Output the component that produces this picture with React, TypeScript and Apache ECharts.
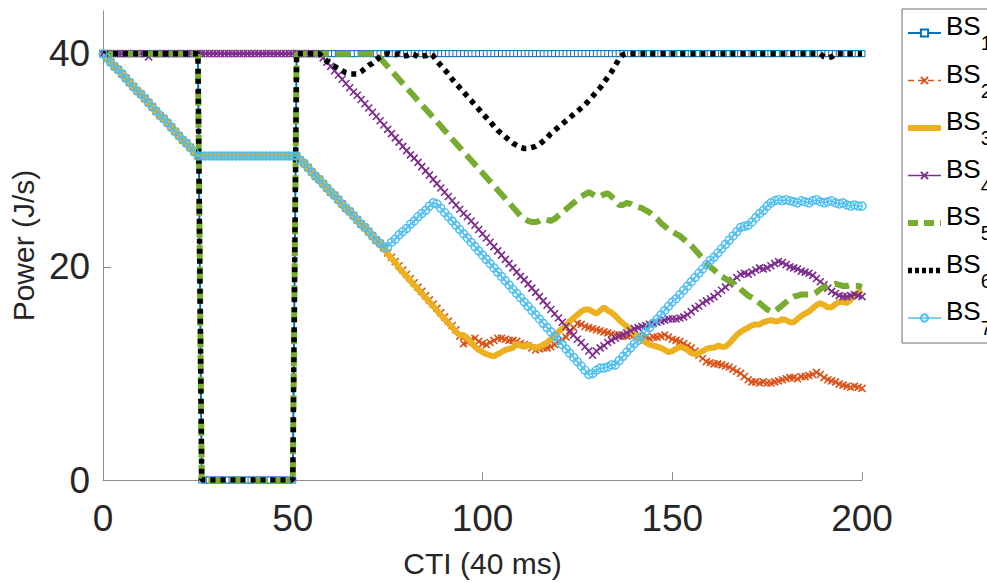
import React, { useEffect, useRef } from 'react';
import * as echarts from 'echarts';

const seriesNames = ['BS1', 'BS2', 'BS3', 'BS4', 'BS5', 'BS6', 'BS7'];
const seriesColors = ['#0072BD', '#D95319', '#EDB120', '#7E2F8E', '#77AC30', '#000000', '#4DBEEE'];
const xTicks = [0, 50, 100, 150, 200];
const yTicks = [0, 20, 40];
const xAxisTitle = 'CTI (40 ms)';
const yAxisTitle = 'Power (J/s)';

// values indexed by CTI step 0..200
const bs1 = [
  40, 40, 40, 40, 40, 40, 40, 40, 40, 40,
  40, 40, 40, 40, 40, 40, 40, 40, 40, 40,
  40, 40, 40, 40, 40, 40, 0, 0, 0, 0,
  0, 0, 0, 0, 0, 0, 0, 0, 0, 0,
  0, 0, 0, 0, 0, 0, 0, 0, 0, 0,
  0, 40, 40, 40, 40, 40, 40, 40, 40, 40,
  40, 40, 40, 40, 40, 40, 40, 40, 40, 40,
  40, 40, 40, 40, 40, 40, 40, 40, 40, 40,
  40, 40, 40, 40, 40, 40, 40, 40, 40, 40,
  40, 40, 40, 40, 40, 40, 40, 40, 40, 40,
  40, 40, 40, 40, 40, 40, 40, 40, 40, 40,
  40, 40, 40, 40, 40, 40, 40, 40, 40, 40,
  40, 40, 40, 40, 40, 40, 40, 40, 40, 40,
  40, 40, 40, 40, 40, 40, 40, 40, 40, 40,
  40, 40, 40, 40, 40, 40, 40, 40, 40, 40,
  40, 40, 40, 40, 40, 40, 40, 40, 40, 40,
  40, 40, 40, 40, 40, 40, 40, 40, 40, 40,
  40, 40, 40, 40, 40, 40, 40, 40, 40, 40,
  40, 40, 40, 40, 40, 40, 40, 40, 40, 40,
  40, 40, 40, 40, 40, 40, 40, 40, 40, 40,
  40,
];

const bs2 = [
  40.0, 39.6, 39.2, 38.8, 38.5, 38.1, 37.7, 37.3, 36.9, 36.5,
  36.2, 35.8, 35.4, 35.0, 34.6, 34.2, 33.9, 33.5, 33.1, 32.7,
  32.3, 31.9, 31.6, 31.2, 30.8, 30.4, 30.4, 30.4, 30.4, 30.4,
  30.4, 30.4, 30.4, 30.4, 30.4, 30.4, 30.4, 30.4, 30.4, 30.4,
  30.4, 30.4, 30.4, 30.4, 30.4, 30.4, 30.4, 30.4, 30.4, 30.4,
  30.4, 30.4, 30.0, 29.7, 29.3, 28.9, 28.5, 28.2, 27.8, 27.4,
  27.0, 26.7, 26.3, 25.9, 25.5, 25.2, 24.8, 24.4, 24.0, 23.7,
  23.3, 22.9, 22.5, 22.2, 21.8, 21.3, 20.9, 20.5, 20.1, 19.7,
  19.3, 18.9, 18.5, 18.1, 17.7, 17.3, 16.9, 16.5, 16.1, 15.7,
  15.3, 14.9, 14.5, 14.1, 13.5, 12.8, 12.9, 13.2, 13.3, 13.0,
  12.8, 12.7, 12.9, 13.1, 13.3, 13.3, 13.2, 13.1, 13.1, 13.0,
  12.8, 12.7, 12.6, 12.4, 12.2, 12.3, 12.4, 12.4, 12.5, 12.7,
  13.0, 13.2, 13.4, 13.8, 14.3, 14.7, 14.6, 14.4, 14.3, 14.2,
  14.1, 14.0, 13.9, 13.8, 13.7, 13.6, 13.6, 13.5, 13.5, 13.6,
  13.6, 13.5, 13.4, 13.4, 13.3, 13.4, 13.4, 13.5, 13.6, 13.4,
  13.2, 13.1, 13.0, 12.8, 12.6, 12.4, 12.1, 11.7, 11.4, 11.1,
  11.0, 10.9, 10.9, 10.8, 10.7, 10.6, 10.4, 10.2, 10.0, 9.7,
  9.4, 9.2, 9.2, 9.1, 9.2, 9.1, 9.1, 9.2, 9.3, 9.4,
  9.5, 9.6, 9.6, 9.5, 9.7, 9.7, 9.8, 9.9, 10.1, 9.9,
  9.6, 9.4, 9.3, 9.2, 9.0, 8.9, 8.8, 8.7, 8.8, 8.7,
  8.6,
];

const bs3 = [
  40.0, 39.6, 39.2, 38.8, 38.5, 38.1, 37.7, 37.3, 36.9, 36.5,
  36.2, 35.8, 35.4, 35.0, 34.6, 34.2, 33.9, 33.5, 33.1, 32.7,
  32.3, 31.9, 31.6, 31.2, 30.8, 30.4, 30.4, 30.4, 30.4, 30.4,
  30.4, 30.4, 30.4, 30.4, 30.4, 30.4, 30.4, 30.4, 30.4, 30.4,
  30.4, 30.4, 30.4, 30.4, 30.4, 30.4, 30.4, 30.4, 30.4, 30.4,
  30.4, 30.4, 30.0, 29.7, 29.3, 28.9, 28.5, 28.2, 27.8, 27.4,
  27.0, 26.7, 26.3, 25.9, 25.5, 25.2, 24.8, 24.4, 24.0, 23.7,
  23.3, 22.9, 22.5, 22.2, 21.8, 21.2, 20.8, 20.4, 19.9, 19.5,
  19.1, 18.7, 18.3, 17.9, 17.5, 17.1, 16.7, 16.3, 15.9, 15.5,
  15.1, 14.7, 14.3, 13.9, 13.6, 13.6, 13.3, 12.9, 12.5, 12.2,
  12.0, 11.8, 11.7, 11.6, 11.8, 12.0, 12.2, 12.3, 12.4, 12.8,
  12.6, 12.5, 12.7, 12.5, 12.4, 12.5, 12.7, 12.9, 13.2, 13.5,
  13.9, 14.2, 14.5, 14.9, 15.2, 15.5, 15.8, 16.0, 16.0, 15.8,
  15.6, 15.9, 16.2, 15.9, 15.7, 15.4, 15.0, 14.7, 14.4, 14.1,
  13.7, 13.4, 13.1, 12.9, 12.7, 12.6, 12.5, 12.4, 12.2, 12.0,
  12.1, 12.3, 12.5, 12.4, 12.2, 11.9, 11.8, 11.9, 12.1, 12.3,
  12.4, 12.4, 12.6, 12.5, 12.5, 12.8, 13.2, 13.6, 13.9, 14.1,
  14.3, 14.5, 14.6, 14.6, 14.8, 14.9, 15.0, 14.9, 14.9, 15.1,
  15.0, 14.8, 14.8, 15.1, 15.4, 15.6, 15.8, 16.1, 16.4, 16.6,
  16.4, 16.2, 16.2, 16.5, 16.7, 16.7, 16.6, 16.9, 17.3, 17.6,
  17.8,
];

const bs4 = [
  40, 40, 40, 40, 40, 40, 40, 40, 40, 40,
  40, 40, 39.7, 40, 40, 40, 40, 40, 40, 40,
  40, 40, 40, 40, 40, 40, 40, 40, 40, 40,
  40, 40, 40, 40, 40, 40, 40, 40, 40, 40,
  40, 40, 40, 40, 40, 40, 40, 40, 40, 40,
  40, 40, 40, 40, 40, 40, 40, 40, 39.6, 39.2,
  38.8, 38.4, 38.0, 37.6, 37.2, 36.8, 36.4, 36.1, 35.7, 35.3,
  34.9, 34.5, 34.1, 33.7, 33.3, 32.9, 32.5, 32.1, 31.7, 31.3,
  30.9, 30.5, 30.2, 29.8, 29.4, 29.0, 28.6, 28.2, 27.8, 27.4,
  27.0, 26.6, 26.2, 25.8, 25.4, 25.0, 24.7, 24.3, 23.9, 23.5,
  23.1, 22.7, 22.3, 21.9, 21.5, 21.1, 20.7, 20.3, 19.9, 19.5,
  19.1, 18.8, 18.4, 18.0, 17.6, 17.2, 16.8, 16.4, 16.0, 15.6,
  15.2, 14.8, 14.4, 14.0, 13.6, 13.2, 12.9, 12.5, 12.1, 11.7,
  12.1, 12.4, 12.6, 12.9, 13.1, 13.3, 13.5, 13.6, 13.8, 14.0,
  14.2, 14.3, 14.4, 14.5, 14.6, 14.7, 14.8, 14.9, 15.0, 15.1,
  15.1, 15.1, 15.2, 15.3, 15.5, 15.8, 16.1, 16.3, 16.6, 16.8,
  17.0, 17.2, 17.5, 17.8, 18.1, 18.4, 18.7, 19.0, 19.3, 19.4,
  19.3, 19.5, 19.7, 19.9, 19.8, 19.9, 20.1, 20.3, 20.5, 20.4,
  20.2, 20.0, 19.9, 19.8, 19.6, 19.5, 19.4, 19.2, 18.9, 18.6,
  18.3, 18.0, 17.7, 17.5, 17.3, 17.2, 17.2, 17.3, 17.4, 17.3,
  17.2,
];

const bs5 = [
  40, 40, 40, 40, 40, 40, 40, 40, 40, 40,
  40, 40, 40, 40, 40, 40, 40, 40, 40, 40,
  40, 40, 40, 40, 40, 40, 0, 0, 0, 0,
  0, 0, 0, 0, 0, 0, 0, 0, 0, 0,
  0, 0, 0, 0, 0, 0, 0, 0, 0, 0,
  0, 40, 40, 40, 40, 40, 40, 40, 40, 40,
  40, 40, 40, 40, 40, 40, 40, 40, 40, 40,
  40, 40, 40, 39.6, 39.2, 38.8, 38.4, 38.0, 37.6, 37.2,
  36.8, 36.4, 36.0, 35.6, 35.2, 34.8, 34.4, 34.0, 33.6, 33.2,
  32.8, 32.4, 32.0, 31.6, 31.2, 30.8, 30.4, 30.0, 29.6, 29.2,
  28.8, 28.4, 28.0, 27.6, 27.2, 26.8, 26.4, 26.0, 25.6, 25.2,
  24.8, 24.5, 24.3, 24.2, 24.2, 24.3, 24.5, 24.4, 24.3, 24.5,
  24.8, 25.1, 25.4, 25.7, 26.0, 26.3, 26.6, 26.8, 27.0, 26.8,
  26.6, 26.6, 26.8, 26.9, 26.6, 26.2, 25.8, 25.8, 26.0, 25.9,
  25.7, 25.6, 25.5, 25.3, 25.1, 24.8, 24.5, 24.1, 23.8, 23.5,
  23.3, 23.1, 22.9, 22.6, 22.3, 22.0, 21.6, 21.2, 20.8, 20.4,
  20.0, 19.7, 19.4, 19.1, 18.9, 18.7, 18.5, 18.2, 17.9, 17.6,
  17.3, 17.1, 16.9, 16.6, 16.3, 16.0, 15.8, 15.8, 16.1, 16.4,
  16.7, 17.0, 17.2, 17.3, 17.4, 17.4, 17.4, 17.4, 17.6, 17.9,
  18.1, 18.2, 18.3, 18.4, 18.3, 18.2, 18.2, 18.3, 18.2, 18.2,
  18.1,
];

const bs6 = [
  40, 40, 40, 40, 40, 40, 40, 40, 40, 40,
  40, 40, 40, 40, 40, 40, 40, 40, 40, 40,
  40, 40, 40, 40, 40, 40, 0, 0, 0, 0,
  0, 0, 0, 0, 0, 0, 0, 0, 0, 0,
  0, 0, 0, 0, 0, 0, 0, 0, 0, 0,
  0, 40, 40, 40, 40, 40, 40, 40, 39.6, 39.3,
  39.0, 38.8, 38.6, 38.4, 38.2, 38.1, 38.1, 38.1, 38.3, 38.6,
  38.9, 39.1, 39.4, 39.7, 39.9, 40, 39.9, 39.9, 40, 39.8,
  39.8, 40, 39.9, 39.7, 39.8, 39.8, 40, 39.8, 39.3, 38.9,
  38.5, 38.1, 37.6, 37.2, 36.8, 36.4, 36.0, 35.6, 35.2, 34.8,
  34.4, 34.0, 33.6, 33.2, 32.8, 32.5, 32.2, 31.9, 31.6, 31.4,
  31.2, 31.1, 31.1, 31.2, 31.3, 31.5, 31.8, 32.1, 32.5, 32.8,
  33.1, 33.4, 33.7, 34.0, 34.3, 34.6, 34.9, 35.2, 35.6, 36.0,
  36.4, 36.8, 37.3, 37.8, 38.3, 38.9, 39.5, 39.9, 40, 40,
  40, 40, 40, 40, 40, 40, 40, 40, 40, 40,
  40, 40, 40, 40, 40, 40, 40, 40, 40, 40,
  40, 40, 40, 40, 40, 40, 40, 40, 40, 40,
  40, 40, 40, 40, 40, 40, 40, 40, 40, 40,
  40, 40, 40, 40, 40, 40, 40, 40, 40, 40,
  39.7, 39.6, 39.7, 40, 40, 40, 40, 40, 40, 40,
  40,
];

const bs7 = [
  40.0, 39.6, 39.2, 38.8, 38.5, 38.1, 37.7, 37.3, 36.9, 36.5,
  36.2, 35.8, 35.4, 35.0, 34.6, 34.2, 33.9, 33.5, 33.1, 32.7,
  32.3, 31.9, 31.6, 31.2, 30.8, 30.4, 30.4, 30.4, 30.4, 30.4,
  30.4, 30.4, 30.4, 30.4, 30.4, 30.4, 30.4, 30.4, 30.4, 30.4,
  30.4, 30.4, 30.4, 30.4, 30.4, 30.4, 30.4, 30.4, 30.4, 30.4,
  30.4, 30.4, 30.0, 29.7, 29.3, 28.9, 28.5, 28.2, 27.8, 27.4,
  27.0, 26.7, 26.3, 25.9, 25.5, 25.2, 24.8, 24.4, 24.0, 23.7,
  23.3, 22.9, 22.5, 22.2, 21.8, 21.9, 22.3, 22.6, 23.0, 23.3,
  23.6, 24.0, 24.3, 24.7, 25.0, 25.3, 25.7, 26.0, 25.9, 25.5,
  25.1, 24.7, 24.3, 23.9, 23.5, 23.1, 22.7, 22.3, 21.9, 21.5,
  21.1, 20.7, 20.3, 19.9, 19.5, 19.1, 18.7, 18.3, 17.9, 17.5,
  17.1, 16.7, 16.3, 15.9, 15.5, 15.1, 14.7, 14.3, 13.9, 13.5,
  13.1, 12.7, 12.3, 11.9, 11.5, 11.1, 10.7, 10.3, 9.9, 10.0,
  10.3, 10.5, 10.5, 10.6, 10.8, 10.8, 11.2, 11.6, 12.0, 12.4,
  12.8, 13.1, 13.5, 13.9, 14.3, 14.7, 15.1, 15.5, 15.9, 16.3,
  16.7, 17.0, 17.4, 17.8, 18.2, 18.6, 19.0, 19.4, 19.8, 20.2,
  20.6, 20.9, 21.3, 21.7, 22.1, 22.5, 22.9, 23.3, 23.7, 23.8,
  23.9, 24.2, 24.6, 25.0, 25.3, 25.7, 26.0, 26.2, 26.3, 26.2,
  26.3, 26.2, 26.1, 26.0, 26.2, 26.1, 26.0, 26.2, 26.3, 26.1,
  26.0, 26.1, 26.2, 26.0, 25.9, 26.0, 25.8, 25.7, 25.8, 25.7,
  25.7,
];

const seriesValues = [bs1, bs2, bs3, bs4, bs5, bs6, bs7];

export default function App() {
  const ref = useRef<HTMLDivElement>(null);

  useEffect(() => {
    if (!ref.current) return;
    const chart = echarts.init(ref.current, null, { renderer: 'svg' });
    const font = '"Liberation Sans", Arial, Helvetica, sans-serif';
    const axisGray = '#8c8c8c';
    const textDark = '#262626';
    const xMark = 'path://M0,0L10,10M10,0L0,10';
    const toPairs = (arr: number[]) => arr.map((v, i) => [i, v]);

    const styles: any[] = [
      { width: 2, type: 'solid', cap: 'butt', symbol: 'rect', symbolSize: 6, fill: '#ffffff', bw: 1 },
      { width: 1.5, type: [6, 4], cap: 'butt', symbol: xMark, symbolSize: 7, fill: 'transparent', bw: 1.6 },
      { width: 6, type: 'solid', cap: 'butt', symbol: 'none', symbolSize: 0, fill: 'transparent', bw: 0 },
      { width: 1.6, type: 'solid', cap: 'butt', symbol: xMark, symbolSize: 7, fill: 'transparent', bw: 1.6 },
      { width: 6, type: [15, 7], cap: 'butt', symbol: 'none', symbolSize: 0, fill: 'transparent', bw: 0 },
      { width: 5.5, type: [5, 5], cap: 'butt', symbol: 'none', symbolSize: 0, fill: 'transparent', bw: 0 },
      { width: 1.6, type: 'solid', cap: 'butt', symbol: 'circle', symbolSize: 8, fill: 'transparent', bw: 1.4 },
    ];

    const series = seriesNames.map((name, k) => {
      const s = styles[k];
      const c = seriesColors[k];
      return {
        type: 'line',
        name,
        data: toPairs(seriesValues[k]),
        color: c,
        showSymbol: s.symbol !== 'none',
        showAllSymbol: true,
        symbol: s.symbol,
        symbolSize: s.symbolSize,
        lineStyle: { color: c, width: s.width, type: s.type, cap: s.cap },
        itemStyle: { color: s.fill, borderColor: c, borderWidth: s.bw },
        emphasis: { disabled: true },
        silent: true,
        z: 2 + k,
      };
    });

    const legendData = seriesNames.map((name, k) => ({
      name,
      lineStyle: {
        color: seriesColors[k],
        width: styles[k].width,
        type: k === 4 ? [10, 6] : k === 5 ? [4, 3] : styles[k].type,
        cap: 'butt',
      },
    }));

    chart.setOption({
      animation: false,
      backgroundColor: '#ffffff',
      grid: { left: 103, right: 125, top: 11, bottom: 102, containLabel: false },
      xAxis: {
        type: 'value',
        min: 0,
        max: 200,
        interval: 50,
        name: xAxisTitle,
        nameLocation: 'middle',
        nameGap: 68,
        nameTextStyle: { fontFamily: font, fontSize: 30, color: textDark },
        axisLine: { show: true, lineStyle: { color: axisGray, width: 1 } },
        axisTick: { show: true, inside: true, length: 8, lineStyle: { color: axisGray, width: 1 }, customValues: xTicks },
        axisLabel: { fontFamily: font, fontSize: 37, color: textDark, margin: 20, customValues: xTicks },
        splitLine: { show: false },
      },
      yAxis: {
        type: 'value',
        min: 0,
        max: 44,
        interval: 20,
        name: yAxisTitle,
        nameLocation: 'middle',
        nameGap: 61,
        nameTextStyle: { fontFamily: font, fontSize: 30, color: textDark },
        axisLine: { show: true, lineStyle: { color: axisGray, width: 1 } },
        axisTick: { show: true, inside: true, length: 8, lineStyle: { color: axisGray, width: 1 }, customValues: yTicks },
        axisLabel: { fontFamily: font, fontSize: 37, color: textDark, margin: 13, customValues: yTicks },
        splitLine: { show: false },
      },
      legend: {
        orient: 'vertical',
        left: 902,
        top: 9,
        padding: [4, 40, 5, 3],
        itemGap: 7.5,
        itemWidth: 33,
        itemHeight: 9,
        borderColor: '#707070',
        borderWidth: 1,
        backgroundColor: '#ffffff',
        selectedMode: false,
        data: legendData,
        formatter: (n: string) => `{a|BS}{b|${n.slice(2)}}`,
        textStyle: {
          fontFamily: font,
          color: '#000000',
          rich: {
            a: { fontFamily: font, fontSize: 26, lineHeight: 30, verticalAlign: 'top', color: '#000000' },
            b: { fontFamily: font, fontSize: 20, lineHeight: 40, verticalAlign: 'bottom', color: '#000000' },
          },
        },
      },
      series,
    } as any);

    return () => chart.dispose();
  }, []);

  return (
    <div
      ref={ref}
      style={{ position: 'fixed', left: 0, top: 0, width: 987, height: 583, background: '#ffffff' }}
    />
  );
}
